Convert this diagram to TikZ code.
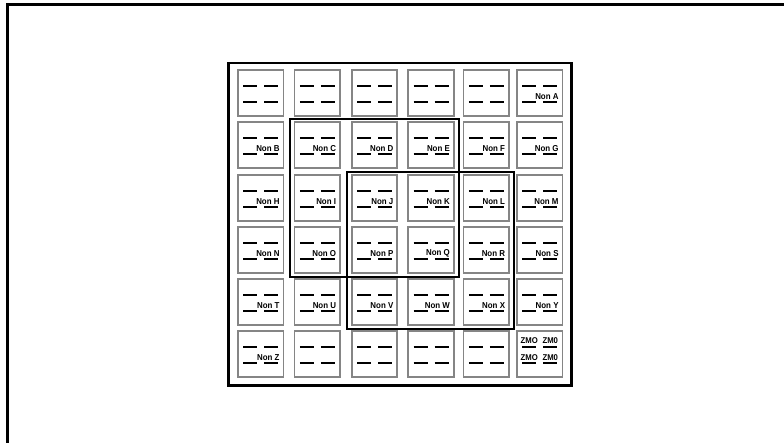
\documentclass[tikz,border=0pt]{standalone}
\usepackage{fontspec}
\newfontfamily\labfont[FakeStretch=0.92]{Liberation Sans}
\definecolor{cellgray}{gray}{0.52}
\begin{document}
\begin{tikzpicture}[x=1pt,y=-1pt,
  cellbox/.style={draw=cellgray,line width=1.8pt,minimum width=45.5pt,minimum height=45.5pt,inner sep=0pt},
  dashline/.style={line width=2pt,black},
  frameline/.style={line width=2.8pt},
  mainbox/.style={line width=2.5pt},
  groupbox/.style={line width=2pt},
  lab/.style={font=\labfont\bfseries\fontsize{8.6}{8.6}\selectfont,inner sep=0pt,anchor=east},
  zlab/.style={font=\labfont\bfseries\fontsize{8.4}{8.4}\selectfont,inner sep=0pt}]
\useasboundingbox (0,0) rectangle (784,443);
% outer frame (only top and left visible)
\draw[frameline] (784,4.3) -- (7.5,4.3) -- (7.5,443);
% main box
\draw[mainbox] (228.5,62.8) rectangle (571.5,385.3);
% cells
\foreach \cx [count=\c] in {260.75,317.25,374.55,431.05,486.25,539.75} {
  \foreach \cy [count=\r] in {93,145,198,250,302,354} {
    \node[cellbox] (cell-\r-\c) at (\cx,\cy) {};
    \draw[dashline] ([shift={(-17.5,-7)}]cell-\r-\c.center) -- ++(14,0);
    \draw[dashline] ([shift={(3.5,-7)}]cell-\r-\c.center) -- ++(14,0);
    \draw[dashline] ([shift={(-17.5,9)}]cell-\r-\c.center) -- ++(14,0);
    \draw[dashline] ([shift={(3.5,9)}]cell-\r-\c.center) -- ++(14,0);
  }
}
% group outlines
\draw[groupbox] (289.5,119.3) rectangle (459,276.7);
\draw[groupbox] (346.8,172) rectangle (513.5,329.5);
% labels
\foreach \r/\c/\l in {1/6/A,2/1/B,2/2/C,2/3/D,2/4/E,2/5/F,2/6/G,3/1/H,3/2/I,3/3/J,3/4/K,3/5/L,3/6/M,4/1/N,4/2/O,4/3/P,4/4/Q,4/5/R,4/6/S,5/1/T,5/2/U,5/3/V,5/4/W,5/5/X,5/6/Y,6/1/Z} {
  \node[lab] (lab-\l) at ([shift={(19,3.5)}]cell-\r-\c.center) {Non \l};
}
\node[zlab] (z1) at ([shift={(-10.5,-13.5)}]cell-6-6.center) {ZMO};
\node[zlab] (z2) at ([shift={(10.5,-13.5)}]cell-6-6.center) {ZM0};
\node[zlab] (z3) at ([shift={(-10.5,3.5)}]cell-6-6.center) {ZMO};
\node[zlab] (z4) at ([shift={(10.5,3.5)}]cell-6-6.center) {ZM0};
\end{tikzpicture}
\end{document}
